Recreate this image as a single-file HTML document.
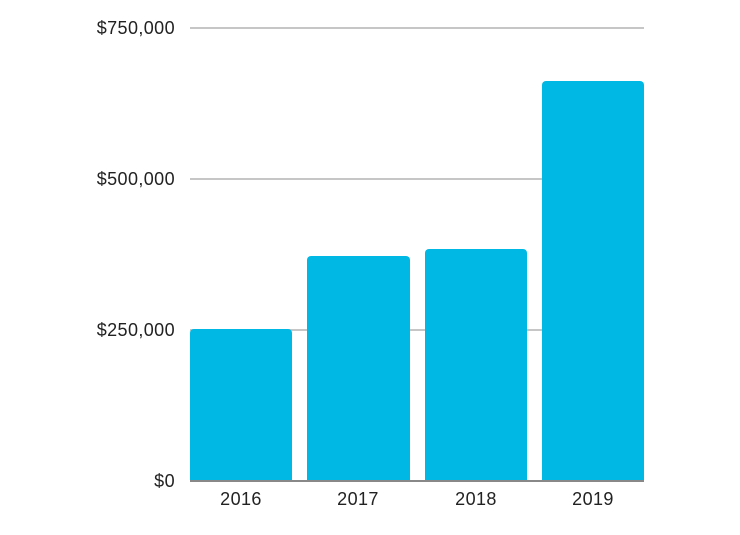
<!DOCTYPE html>
<html><head><style>
html,body{margin:0;padding:0;background:#fff;}
body{width:740px;height:530px;overflow:hidden;}
</style></head><body>
<svg width="740" height="530" xmlns="http://www.w3.org/2000/svg" font-family="Liberation Sans, sans-serif" font-size="18" letter-spacing="0.4" fill="#222">
<g stroke="#c6c6c6" stroke-width="2">
<line x1="190" y1="28" x2="644" y2="28"/>
<line x1="190" y1="179" x2="644" y2="179"/>
<line x1="190" y1="330" x2="644" y2="330"/>
</g>
<g fill="#00b8e4">
<path d="M190 481V333a4 4 0 0 1 4-4h94a4 4 0 0 1 4 4V481z"/>
<path d="M307 481V260a4 4 0 0 1 4-4h95a4 4 0 0 1 4 4V481z"/>
<path d="M425 481V253a4 4 0 0 1 4-4h94a4 4 0 0 1 4 4V481z"/>
<path d="M542 481V85a4 4 0 0 1 4-4h94a4 4 0 0 1 4 4V481z"/>
</g>
<line x1="190" y1="481" x2="644" y2="481" stroke="#888" stroke-width="2"/>
<g text-anchor="end">
<text x="175" y="34">$750,000</text>
<text x="175" y="185">$500,000</text>
<text x="175" y="336">$250,000</text>
<text x="175" y="487">$0</text>
</g>
<g text-anchor="middle">
<text x="241" y="505">2016</text>
<text x="358" y="505">2017</text>
<text x="476" y="505">2018</text>
<text x="593" y="505">2019</text>
</g>
</svg>
</body></html>
